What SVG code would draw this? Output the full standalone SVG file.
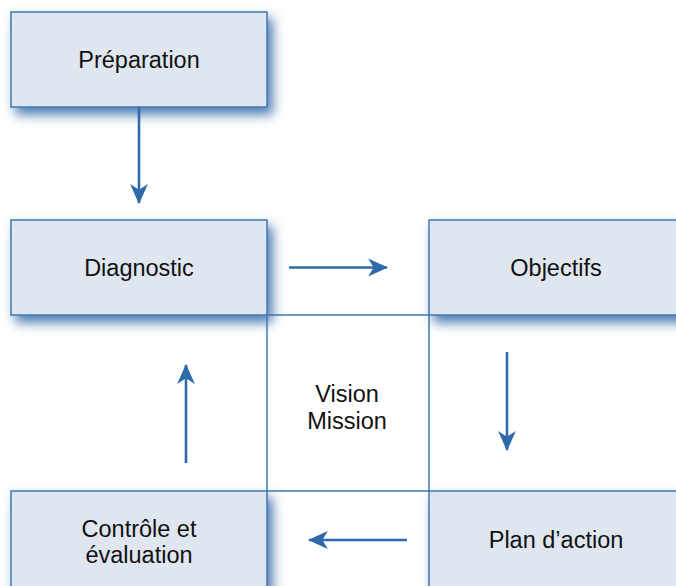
<svg xmlns="http://www.w3.org/2000/svg" width="676" height="586" viewBox="0 0 676 586">
<style>
.box{fill:#dfe6f0;stroke:#3f78b5;stroke-width:1.5}
.t{font-family:"Liberation Sans",Arial,sans-serif;font-size:23.5px;fill:#111;text-anchor:middle}
.c{stroke:#2f6aaa;stroke-width:2.6;fill:none}
.g{stroke:#3f78b5;stroke-width:1.5;fill:none}
</style>
<defs>
<filter id="sh" x="-20%" y="-30%" width="150%" height="170%">
<feGaussianBlur in="SourceAlpha" stdDeviation="6"/>
<feOffset dx="5" dy="7" result="b"/>
<feFlood flood-color="#2d64a6" flood-opacity="0.85"/>
<feComposite in2="b" operator="in"/>
<feMerge><feMergeNode/><feMergeNode in="SourceGraphic"/></feMerge>
</filter>
<marker id="ah" markerUnits="userSpaceOnUse" markerWidth="20" markerHeight="20" viewBox="0 0 18 18" refX="17" refY="9" orient="auto">
<path d="M0,1 L18,9 L0,17 L5,9 Z" fill="#2f6aaa"/>
</marker>
</defs>
<g id="preparation"><rect class="box" x="11" y="12" width="256" height="95" filter="url(#sh)"/><text class="t" x="139" y="68">Préparation</text></g>
<g id="diagnostic"><rect class="box" x="11" y="220" width="256" height="95" filter="url(#sh)"/><text class="t" x="139" y="276">Diagnostic</text></g>
<g id="objectifs"><rect class="box" x="429" y="220" width="256" height="95" filter="url(#sh)"/><text class="t" x="556" y="276">Objectifs</text></g>
<g id="controle"><rect class="box" x="11" y="491" width="256" height="110" filter="url(#sh)"/><text class="t" x="139" y="537">Contrôle et</text><text class="t" x="139" y="563">évaluation</text></g>
<g id="plan"><rect class="box" x="429" y="491" width="256" height="110" filter="url(#sh)"/><text class="t" x="556" y="548">Plan d’action</text></g>
<g id="vision"><path class="g" d="M267,315 H429 V491 H267 Z"/><text class="t" x="347" y="402">Vision</text><text class="t" x="347" y="429">Mission</text></g>
<g id="connectors">
<line class="c" x1="139" y1="107" x2="139" y2="203" marker-end="url(#ah)"/>
<line class="c" x1="289" y1="267.5" x2="387" y2="267.5" marker-end="url(#ah)"/>
<line class="c" x1="507" y1="352" x2="507" y2="450" marker-end="url(#ah)"/>
<line class="c" x1="186" y1="463" x2="186" y2="365" marker-end="url(#ah)"/>
<line class="c" x1="407" y1="540" x2="309" y2="540" marker-end="url(#ah)"/>
</g>
</svg>
